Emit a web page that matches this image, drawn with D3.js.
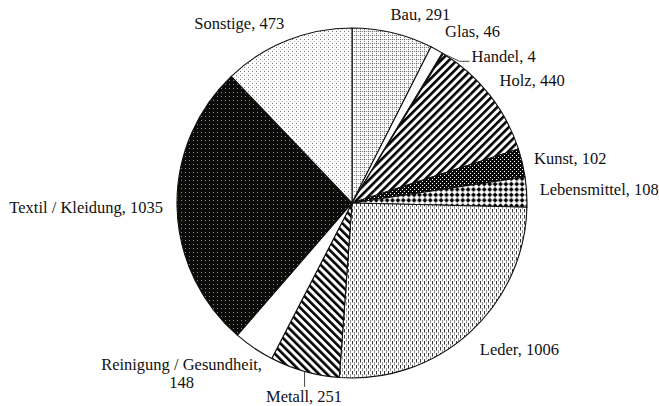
<!DOCTYPE html>
<html>
<head>
<meta charset="utf-8">
<script src="https://cdn.jsdelivr.net/npm/d3@7"></script>
<style>
  body { margin: 0; background: #fff; }
  svg { display: block; }
  .lbl { font-family: "Liberation Serif", "Times New Roman", Times, serif; font-size: 16.5px; fill: #111; }
</style>
</head>
<body>
<svg class="pieChart"></svg>
<script>
// data
const categories = ["Bau", "Glas", "Handel", "Holz", "Kunst", "Lebensmittel", "Leder",
                    "Metall", "Reinigung / Gesundheit", "Textil / Kleidung", "Sonstige"];
const values = [291, 46, 4, 440, 102, 108, 1006, 251, 148, 1035, 473];

// fill per slice (pattern ids or plain colours)
const fills = ["url(#pBau)", "#fff", "#fff", "url(#pUp)", "url(#pKunst)", "url(#pDiamond)",
               "url(#pDash)", "url(#pDown)", "#fff", "url(#pTextil)", "url(#pDots)"];

// label placement: anchor + nudge from the point just outside the slice
const labelLayout = [
    {anchor: "start",  dx: -5,  dy: 0},
    {anchor: "start",  dx: 2,   dy: -1.5},
    {anchor: "start",  dx: 22,  dy: 20, leader: true},
    {anchor: "start",  dx: 0,   dy: -0.5},
    {anchor: "start",  dx: -1,  dy: 4},
    {anchor: "start",  dx: 0,   dy: 4},
    {anchor: "start",  dx: 1.5, dy: 13},
    {anchor: "middle", dx: 3,   dy: 18, leader: true},
    {anchor: "middle", dx: -65, dy: 11.5, split: true},
    {anchor: "end",    dx: -1,  dy: 5.6},
    {anchor: "end",    dx: 2,   dy: 0.6}
];

const W = 659, H = 406;
const cx = 352, cy = 203, r = 175;

const svg = d3.select(".pieChart").attr("width", W).attr("height", H);
const defs = svg.append("defs");

// --- patterns ---
function pattern(id, w, h) {
    return defs.append("pattern").attr("id", id)
        .attr("patternUnits", "userSpaceOnUse")
        .attr("width", w).attr("height", h);
}

// small dashed grid
let p = pattern("pBau", 4, 4);
p.append("rect").attr("width", 4).attr("height", 4).attr("fill", "#fff");
p.append("path").attr("d", "M0.5,0V4M0,0.5H4")
    .attr("stroke", "#666").attr("stroke-width", 0.8).attr("stroke-dasharray", "1.2,0.8");

// wide upward diagonal
p = pattern("pUp", 5.6, 5.6).attr("patternTransform", "rotate(45)");
p.append("rect").attr("width", 5.6).attr("height", 5.6).attr("fill", "#fff");
p.append("rect").attr("width", 2.6).attr("height", 5.6).attr("fill", "#000");

// wide downward diagonal
p = pattern("pDown", 5.6, 5.6).attr("patternTransform", "rotate(-45)");
p.append("rect").attr("width", 5.6).attr("height", 5.6).attr("fill", "#fff");
p.append("rect").attr("width", 2.6).attr("height", 5.6).attr("fill", "#000");

// black with white dots
p = pattern("pKunst", 4, 4);
p.append("rect").attr("width", 4).attr("height", 4).attr("fill", "#0a0a0a");
p.append("rect").attr("x", 0).attr("y", 0).attr("width", 1).attr("height", 1).attr("fill", "#fff");
p.append("rect").attr("x", 2).attr("y", 2).attr("width", 1).attr("height", 1).attr("fill", "#fff");

// solid diamond
p = pattern("pDiamond", 5.4, 5.4);
p.append("rect").attr("width", 5.4).attr("height", 5.4).attr("fill", "#fff");
p.append("path").attr("d", "M2.7,0.2L5.2,2.7L2.7,5.2L0.2,2.7Z").attr("fill", "#000");

// dashed vertical
p = pattern("pDash", 4, 6);
p.append("rect").attr("width", 4).attr("height", 6).attr("fill", "#fff");
p.append("path").attr("d", "M0.5,0V3.5").attr("stroke", "#222").attr("stroke-width", 0.9);
p.append("path").attr("d", "M2.5,3V6.5M2.5,-3V0.5").attr("stroke", "#888").attr("stroke-width", 0.9);

// black with faint dots
p = pattern("pTextil", 4, 4);
p.append("rect").attr("width", 4).attr("height", 4).attr("fill", "#0b0c0a");
p.append("rect").attr("x", 1).attr("y", 1).attr("width", 1).attr("height", 1).attr("fill", "#8a8a8a");

// white with sparse dots
p = pattern("pDots", 4, 4);
p.append("rect").attr("width", 4).attr("height", 4).attr("fill", "#fff");
p.append("rect").attr("x", 0).attr("y", 0).attr("width", 1).attr("height", 1).attr("fill", "#777");
p.append("rect").attr("x", 2).attr("y", 2).attr("width", 1).attr("height", 1).attr("fill", "#bbb");

// --- pie ---
const data = categories.map((c, i) => ({name: c, value: values[i], i: i}));

const pie = d3.pie().sort(null).value(d => d.value)
    .startAngle(0).endAngle(2 * Math.PI);
const arc = d3.arc().innerRadius(0).outerRadius(r);
const arcs = pie(data);

const g = svg.append("g").attr("transform", `translate(${cx},${cy})`);

g.selectAll("path.slice")
    .data(arcs)
    .enter()
    .append("path")
    .attr("class", "slice")
    .attr("d", arc)
    .attr("fill", d => fills[d.data.i])
    .attr("stroke", "#111")
    .attr("stroke-width", 1.1)
    .attr("stroke-linejoin", "round");

// --- labels ---
function polar(a, rad) {
    return [Math.sin(a) * rad, -Math.cos(a) * rad];
}

const labels = g.append("g");

arcs.forEach(d => {
    const lay = labelLayout[d.data.i];
    const mid = (d.startAngle + d.endAngle) / 2;
    const base = polar(mid, r + 13);
    const x = base[0] + lay.dx, y = base[1] + lay.dy;
    const t = labels.append("text")
        .attr("class", "lbl")
        .attr("text-anchor", lay.anchor)
        .attr("x", x).attr("y", y);
    if (lay.split) {
        t.append("tspan").attr("x", x).text(d.data.name + ",");
        t.append("tspan").attr("x", x).attr("dy", 18).text(d.data.value);
    } else {
        t.text(d.data.name + ", " + d.data.value);
    }

    if (lay.leader) {
        const e = polar(mid, r);
        let pts;
        if (lay.anchor === "start") {
            pts = [e, [x - 12, y - 1], [x - 2, y - 1]];
        } else {
            pts = [e, [e[0], y - 15]];
        }
        g.append("path")
            .attr("d", d3.line()(pts))
            .attr("fill", "none")
            .attr("stroke", "#333")
            .attr("stroke-width", 0.9);
    }
});
</script>
</body>
</html>
